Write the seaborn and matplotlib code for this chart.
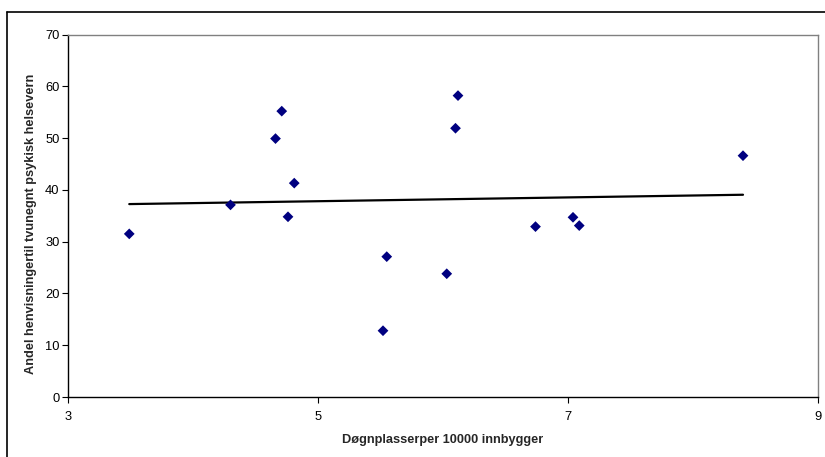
import numpy as np
import pandas as pd
import matplotlib
matplotlib.use("Agg")
import matplotlib.pyplot as plt
from matplotlib.lines import Line2D
import seaborn as sns

# Beds per 10 000 inhabitants and share of referrals to compulsory mental health care
dognplasser = [3.49, 4.30, 4.66, 4.71, 4.81, 4.76, 5.55, 5.52, 6.03, 6.10, 6.12, 6.74, 7.04, 7.09, 8.40]
andel = [31.5, 37.1, 49.9, 55.2, 41.3, 34.8, 27.1, 12.8, 23.8, 51.9, 58.2, 32.9, 34.7, 33.1, 46.6]

x_ticks = [3, 5, 7, 9]
y_ticks = [0, 10, 20, 30, 40, 50, 60, 70]

df = pd.DataFrame({"x": dognplasser, "y": andel})

sns.set_theme(style="white")
plt.rcParams["font.family"] = ["Liberation Sans", "DejaVu Sans"]

fig = plt.figure(figsize=(8.25, 4.57), dpi=100)
ax = fig.add_axes([68 / 825, 60 / 457, 750 / 825, 362.5 / 457])

sns.scatterplot(data=df, x="x", y="y", ax=ax, marker="D", s=30,
                color="#000080", edgecolor="none", zorder=3)
sns.regplot(data=df, x="x", y="y", ax=ax, scatter=False, ci=None,
            line_kws={"color": "black", "lw": 1.6}, truncate=True)

ax.set_xlim(3, 9)
ax.set_ylim(0, 70)
ax.set_xticks(x_ticks)
ax.set_yticks(y_ticks)
ax.tick_params(axis="both", which="both", direction="out", length=4, width=0.8,
               labelsize=9.3, color="black", labelcolor="black",
               bottom=True, left=True)
ax.tick_params(axis="x", pad=6)
ax.tick_params(axis="y", pad=2)

for side in ["left", "bottom"]:
    ax.spines[side].set_color("black")
    ax.spines[side].set_linewidth(1.0)
for side in ["right", "top"]:
    ax.spines[side].set_color("#808080")
    ax.spines[side].set_linewidth(1.0)

ax.set_xlabel("Døgnplasserper 10000 innbygger", fontsize=9.2, fontweight="bold", labelpad=8)
ax.set_ylabel("Andel henvisningertil tvunegnt psykisk helsevern", fontsize=9.2,
              fontweight="bold")
ax.yaxis.set_label_coords(-0.041, 0.477)

# Outer chart frame (left and top edges)
fig.add_artist(Line2D([6.5 / 825, 6.5 / 825], [0, 1 - 12 / 457], color="black", lw=1.2,
                      transform=fig.transFigure))
fig.add_artist(Line2D([6.5 / 825, 1], [1 - 12 / 457, 1 - 12 / 457], color="black", lw=1.2,
                      transform=fig.transFigure))

fig.savefig("out.png", dpi=100)
